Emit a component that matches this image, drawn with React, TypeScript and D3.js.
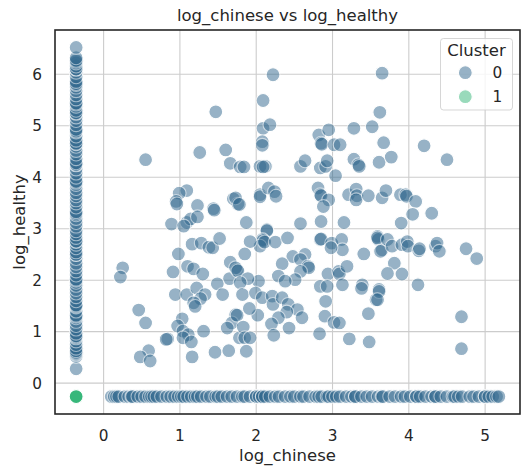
import * as d3 from "d3";

// log values; missing counts sit at the substitute value below
const zeroChinese = -0.36;
const zeroHealthy = -0.26;

// cluster 0: restaurants with no chinese reviews (x = zeroChinese)
const columnHealthy = [
  0.28, 0.52, 0.56, 0.58, 0.6, 0.63, 0.68, 0.75, 0.82, 0.88, 0.9, 0.92, 0.97, 1.05, 1.12, 1.2, 1.27,
  1.3, 1.32, 1.4, 1.48, 1.5, 1.52, 1.6, 1.68, 1.75, 1.82, 1.9, 1.96, 2.0, 2.02, 2.1, 2.18, 2.26, 2.33,
  2.42, 2.5, 2.5, 2.55, 2.63, 2.7, 2.75, 2.76, 2.83, 2.9, 2.96, 3.05, 3.12, 3.2, 3.27, 3.3, 3.33, 3.42,
  3.5, 3.56, 3.64, 3.7, 3.78, 3.86, 3.9, 3.92, 4.0, 4.08, 4.16, 4.24, 4.25, 4.28, 4.36, 4.45, 4.52, 4.6,
  4.65, 4.66, 4.72, 4.8, 4.88, 4.9, 4.93, 5.02, 5.1, 5.17, 5.24, 5.25, 5.3, 5.38, 5.42, 5.44, 5.52, 5.6,
  5.68, 5.75, 5.8, 5.82, 5.86, 5.95, 6.04, 6.1, 6.1, 6.16, 6.22, 6.25, 6.27, 6.32, 6.52,
];

// cluster 0: restaurants with no healthy reviews (y = zeroHealthy)
const rowChinese = [
  0.1, 0.14, 0.17, 0.2, 0.28, 0.33, 0.37, 0.38, 0.45, 0.5, 0.55, 0.6, 0.63, 0.66, 0.7, 0.76, 0.83, 0.88,
  0.93, 0.98, 1.02, 1.05, 1.1, 1.15, 1.2, 1.23, 1.28, 1.35, 1.4, 1.47, 1.5, 1.55, 1.62, 1.68, 1.75, 1.82,
  1.85, 1.92, 2.0, 2.0, 2.04, 2.08, 2.08, 2.12, 2.18, 2.25, 2.3, 2.38, 2.45, 2.5, 2.58, 2.62, 2.7, 2.78,
  2.82, 2.86, 2.93, 2.95, 3.0, 3.05, 3.1, 3.18, 3.25, 3.3, 3.3, 3.38, 3.45, 3.52, 3.6, 3.65, 3.66, 3.75,
  3.82, 3.9, 3.95, 4.02, 4.1, 4.1, 4.15, 4.22, 4.3, 4.35, 4.35, 4.42, 4.5, 4.58, 4.6, 4.65, 4.7, 4.8,
  4.85, 4.92, 5.0, 5.0, 5.05, 5.1, 5.15, 5.18,
];

// cluster 0: both present [log_chinese, log_healthy]
const bothPoints: [number, number][] = [
  [1.47, 5.27], [0.55, 4.34], [1.26, 4.48], [1.6, 4.53], [1.66, 4.27], [1.79, 4.2], [1.09, 3.74],
  [0.99, 3.69], [0.95, 3.53], [0.96, 3.48], [1.23, 3.45], [1.44, 3.39], [1.45, 3.36], [1.7, 3.58],
  [1.76, 3.48], [0.89, 3.09], [1.09, 3.12], [1.14, 3.19], [1.23, 3.23],
  [2.22, 5.99], [2.09, 5.49], [3.62, 5.26], [3.65, 6.02], [2.09, 4.95], [2.18, 5.02], [2.08, 4.69],
  [2.08, 4.62], [2.82, 4.82], [2.95, 4.92], [2.85, 4.66], [2.86, 4.64], [3.02, 4.63], [3.1, 4.63],
  [3.28, 4.95], [3.52, 4.98], [3.67, 4.67], [1.84, 4.2], [2.05, 4.21], [2.12, 4.21], [2.09, 4.2],
  [2.58, 4.21], [2.64, 4.32], [2.84, 4.18], [2.91, 4.21], [2.93, 4.32], [3.04, 4.03], [3.28, 4.35],
  [3.34, 4.24], [3.35, 4.21], [3.61, 4.29], [1.73, 3.6], [1.78, 3.47], [2.05, 3.66], [2.05, 3.62],
  [2.16, 3.79], [2.24, 3.72], [2.26, 3.63], [2.81, 3.79], [2.84, 3.66], [2.85, 3.64], [2.95, 3.56],
  [2.88, 3.43], [3.21, 3.66], [3.31, 3.77], [3.32, 3.64], [3.31, 3.56], [3.47, 3.64], [3.65, 3.6],
  [1.87, 3.12], [2.14, 2.98], [2.58, 3.1], [2.85, 3.14], [3.15, 3.12],
  [4.2, 4.61], [4.5, 4.34], [3.77, 4.39], [3.7, 3.74], [3.89, 3.66], [3.96, 3.66], [3.97, 3.63],
  [4.09, 3.53], [4.05, 3.28], [4.3, 3.3], [3.9, 3.11],
  [1.05, 3.05], [0.25, 2.24], [0.22, 2.06], [1.16, 2.7], [1.28, 2.72], [1.38, 2.64], [1.43, 2.63],
  [1.52, 2.81], [0.98, 2.51], [0.91, 2.16], [1.1, 2.27], [1.18, 2.22], [1.3, 2.12], [1.66, 2.35],
  [1.75, 2.2], [1.65, 2.03], [1.49, 1.93], [0.94, 1.72], [1.09, 1.72], [1.22, 1.85], [1.33, 1.72],
  [1.56, 1.72], [1.27, 1.64], [1.18, 1.56], [1.2, 1.49], [0.46, 1.42], [0.55, 1.17], [1.03, 1.25],
  [0.97, 1.11], [1.04, 1.01], [1.11, 0.94], [1.31, 1.01], [0.84, 0.86], [0.82, 0.85], [1.04, 0.88],
  [1.15, 0.8], [1.16, 0.51], [1.46, 0.6], [1.64, 0.63], [0.59, 0.63], [0.48, 0.51], [0.61, 0.43],
  [1.73, 1.33], [1.68, 1.17], [1.62, 1.07], [1.78, 0.88],
  [2.14, 2.96], [2.08, 2.79], [2.09, 2.77], [2.05, 2.66], [2.11, 2.74], [2.25, 2.74], [1.92, 2.75],
  [1.85, 2.51], [2.41, 2.82], [2.84, 2.79], [2.85, 2.8], [2.99, 2.72], [3.12, 2.79], [3.13, 2.59],
  [2.98, 2.63], [3.41, 2.51], [3.59, 2.85], [3.6, 2.79], [3.65, 2.59], [2.48, 2.46], [2.64, 2.5],
  [2.58, 2.4], [2.34, 2.32], [2.68, 2.27], [2.69, 2.24], [1.73, 2.24], [1.76, 2.18], [2.29, 2.08],
  [2.58, 2.17], [2.51, 2.01], [2.38, 1.98], [2.03, 1.98], [1.89, 2.03], [2.94, 2.12], [3.08, 2.17],
  [3.09, 2.12], [3.19, 2.27], [3.13, 1.91], [2.84, 1.88], [2.93, 1.88], [3.39, 1.91], [3.38, 1.84],
  [3.61, 1.82], [3.57, 1.62], [1.79, 1.95], [1.82, 1.72], [1.99, 1.75], [2.08, 1.66], [2.21, 1.69],
  [2.22, 1.53], [2.34, 1.66], [2.42, 1.53], [2.54, 1.43], [2.6, 1.27], [2.4, 1.38], [2.29, 1.27],
  [2.2, 1.15], [2.43, 1.07], [2.23, 0.93], [2.02, 1.32], [1.91, 1.45], [1.75, 1.32], [1.83, 1.09],
  [1.85, 0.88], [1.92, 0.88], [1.87, 0.62], [2.91, 1.59], [2.9, 1.3], [3.02, 1.18], [3.09, 1.17],
  [2.83, 0.96], [3.22, 0.86], [3.47, 1.35], [3.48, 0.8],
  [3.59, 2.82], [3.72, 2.79], [3.63, 2.56], [3.78, 2.66], [3.91, 2.69], [3.98, 2.75], [3.99, 2.66],
  [4.13, 2.57], [4.14, 2.61], [4.35, 2.66], [4.37, 2.72], [4.4, 2.56], [4.75, 2.61], [4.89, 2.42],
  [3.81, 2.33], [3.72, 2.13], [3.91, 2.12], [4.12, 1.91], [3.61, 1.78], [3.59, 1.62], [4.69, 1.29],
  [4.69, 0.67],
];

// cluster 1: neither present, all stacked on one spot
const cluster1Count = 6;

const clusters = ["0", "1"];
const palette = ["#31688e", "#35b779"];
const xTicks = [0, 1, 2, 3, 4, 5];
const yTicks = [0, 1, 2, 3, 4, 5, 6];

type Pt = { x: number; y: number; c: number };

const W = 529;
const H = 475;
const margin = { top: 30, right: 9, bottom: 61, left: 55 };
const font = "DejaVu Sans, sans-serif";

export default function App() {
  const pts: Pt[] = [
    ...columnHealthy.map(y => ({ x: zeroChinese, y, c: 0 })),
    ...rowChinese.map(x => ({ x, y: zeroHealthy, c: 0 })),
    ...bothPoints.map(([x, y]) => ({ x, y, c: 0 })),
    ...d3.range(cluster1Count).map(() => ({ x: zeroChinese, y: zeroHealthy, c: 1 })),
  ];

  const pad = (ext: [number, number]): [number, number] => {
    const s = ext[1] - ext[0];
    return [ext[0] - s * 0.05, ext[1] + s * 0.05];
  };
  const x = d3.scaleLinear()
    .domain(pad(d3.extent(pts, d => d.x) as [number, number]))
    .range([margin.left, W - margin.right]);
  const y = d3.scaleLinear()
    .domain(pad(d3.extent(pts, d => d.y) as [number, number]))
    .range([H - margin.bottom, margin.top]);

  const [x0, x1] = x.range();
  const [y0, y1] = y.range();
  const r = 6.95;

  return (
    <svg width={W} height={H} style={{ position: "absolute", left: 0, top: 0, background: "#fff" }}
      fontFamily={font}>
      {/* grid */}
      {xTicks.map(t => (
        <line key={`gx${t}`} x1={x(t)} x2={x(t)} y1={y1} y2={y0} stroke="#cccccc" strokeWidth={1.1} />
      ))}
      {yTicks.map(t => (
        <line key={`gy${t}`} x1={x0} x2={x1} y1={y(t)} y2={y(t)} stroke="#cccccc" strokeWidth={1.1} />
      ))}

      {/* points */}
      <g>
        {pts.map((d, i) => (
          <circle key={i} cx={x(d.x)} cy={y(d.y)} r={r} fill={palette[d.c]} stroke="#fff"
            strokeWidth={1.1} opacity={0.5} />
        ))}
      </g>

      {/* frame */}
      <rect x={x0} y={y1} width={x1 - x0} height={y0 - y1} fill="none" stroke="#262626" strokeWidth={1.6} />

      {/* ticks */}
      {xTicks.map(t => (
        <text key={`tx${t}`} x={x(t)} y={441} textAnchor="middle" fontSize={15.3} fill="#262626">{t}</text>
      ))}
      {yTicks.map(t => (
        <text key={`ty${t}`} x={42} y={y(t)} dy="0.36em" textAnchor="end" fontSize={15.3} fill="#262626">{t}</text>
      ))}

      {/* labels */}
      <text x={(x0 + x1) / 2} y={21} textAnchor="middle" fontSize={16.5} fill="#262626">log_chinese vs log_healthy</text>
      <text x={(x0 + x1) / 2} y={461} textAnchor="middle" fontSize={16.5} fill="#262626">log_chinese</text>
      <text transform={`translate(24.5,${(y0 + y1) / 2}) rotate(-90)`} textAnchor="middle" fontSize={16.5}
        fill="#262626">log_healthy</text>

      {/* legend */}
      <g>
        <rect x={440.5} y={38.5} width={72} height={71.5} rx={3} fill="#fff" fillOpacity={0.8}
          stroke="#cccccc" strokeOpacity={0.8} strokeWidth={1} />
        <text x={476.5} y={56} textAnchor="middle" fontSize={16.5} fill="#262626">Cluster</text>
        {clusters.map((c, i) => (
          <g key={c} transform={`translate(0,${i * 24})`}>
            <circle cx={465.3} cy={72.7} r={r} fill={palette[i]} stroke="#fff" strokeWidth={1.1} opacity={0.5} />
            <text x={492.5} y={72.7} dy="0.36em" fontSize={15.3} fill="#262626">{c}</text>
          </g>
        ))}
      </g>
    </svg>
  );
}
